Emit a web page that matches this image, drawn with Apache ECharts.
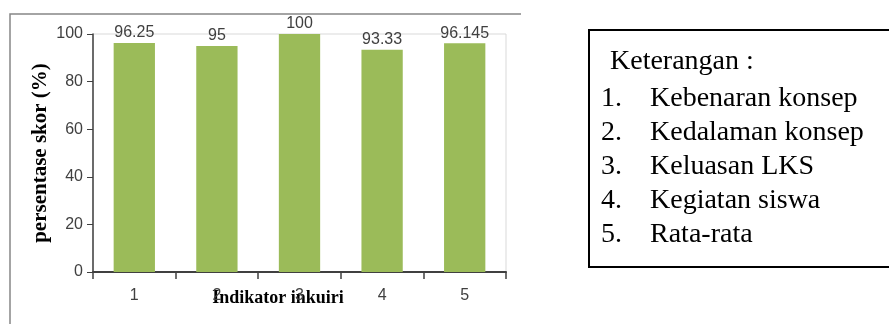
<!DOCTYPE html>
<html>
<head>
<meta charset="utf-8">
<title>Indikator inkuiri</title>
<script src="https://cdn.jsdelivr.net/npm/echarts@6/dist/echarts.min.js"></script>
<style>
    html, body { margin: 0; padding: 0; background: #fff; }
    #chart { width: 889px; height: 324px; }
</style>
</head>
<body>
<div id="chart"></div>
<script type="text/javascript">
// data
var categories = ['1', '2', '3', '4', '5'];
var skor = [96.25, 95, 100, 93.33, 96.145];
var yTicks = { min: 0, max: 100, interval: 20 };
var keteranganTitle = 'Keterangan :';
var keteranganItems = ['Kebenaran konsep', 'Kedalaman konsep', 'Keluasan LKS', 'Kegiatan siswa', 'Rata-rata'];

var chart = echarts.init(document.getElementById('chart'));

// kotak keterangan
var legendGraphics = [
    {
        type: 'rect',
        shape: { x: 589, y: 30, width: 310, height: 237 },
        style: { fill: '#fff', stroke: '#000', lineWidth: 2 }
    },
    {
        type: 'text',
        x: 610, y: 62,
        style: { text: keteranganTitle, font: '28px "Liberation Serif"', fill: '#000', verticalAlign: 'middle' }
    }
];
keteranganItems.forEach(function (t, i) {
    var y = 99 + i * 34;
    legendGraphics.push({
        type: 'text', x: 601, y: y,
        style: { text: (i + 1) + '.', font: '28px "Liberation Serif"', fill: '#000', verticalAlign: 'middle' }
    });
    legendGraphics.push({
        type: 'text', x: 650, y: y,
        style: { text: t, font: '28px "Liberation Serif"', fill: '#000', verticalAlign: 'middle' }
    });
});

var option = {
    animation: false,
    grid: { left: 93, right: 383, top: 34, bottom: 52, show: true, borderColor: '#d9d9d9', borderWidth: 1 },
    xAxis: {
        type: 'category',
        data: categories,
        axisLine: { lineStyle: { color: '#404040', width: 2 } },
        axisTick: { show: true, length: 7, lineStyle: { color: '#404040', width: 1.5 } },
        axisLabel: { color: '#404040', fontSize: 16, fontFamily: 'Liberation Sans', margin: 16 },
        splitLine: { show: false }
    },
    yAxis: {
        type: 'value',
        min: yTicks.min,
        max: yTicks.max,
        interval: yTicks.interval,
        name: 'persentase skor (%)',
        nameLocation: 'middle',
        nameGap: 42,
        nameTextStyle: { fontFamily: 'Liberation Serif', fontWeight: 'bold', fontSize: 21, color: '#000' },
        axisLine: { show: true, lineStyle: { color: '#404040', width: 1.5 } },
        axisTick: { show: true, length: 6, lineStyle: { color: '#404040' } },
        axisLabel: { color: '#404040', fontSize: 16, fontFamily: 'Liberation Sans', margin: 10 },
        splitLine: { show: false }
    },
    series: [{
        name: 'persentase skor',
        type: 'bar',
        data: skor,
        barWidth: '50%',
        itemStyle: { color: '#9bbb59' },
        label: {
            show: true,
            position: 'top',
            distance: 2,
            color: '#404040',
            fontSize: 16,
            fontFamily: 'Liberation Sans'
        }
    }],
    graphic: [
        // bingkai luar grafik
        {
            type: 'polyline',
            shape: { points: [[10, 330], [10, 14], [521, 14]] },
            style: { stroke: '#868686', lineWidth: 1.5, fill: null }
        },
        {
            type: 'text', x: 278, y: 298,
            style: { text: 'Indikator inkuiri', font: 'bold 18px "Liberation Serif"', fill: '#000', align: 'center', verticalAlign: 'middle' }
        }
    ].concat(legendGraphics)
};
chart.setOption(option);
</script>
</body>
</html>
